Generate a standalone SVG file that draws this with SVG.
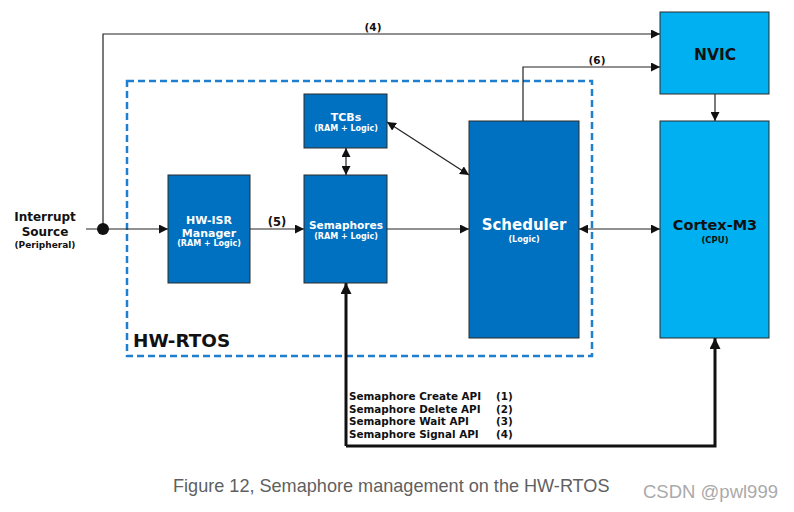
<svg xmlns="http://www.w3.org/2000/svg" width="794" height="512" viewBox="0 0 794 512">
<defs>
<marker id="ah" viewBox="0 0 10 10" refX="10" refY="5" markerWidth="9" markerHeight="9" markerUnits="userSpaceOnUse" orient="auto-start-reverse">
<path d="M0,0 L10,5 L0,10 z" fill="#111"/>
</marker>
<marker id="ahb" viewBox="0 0 10 10" refX="10" refY="5" markerWidth="11" markerHeight="11" markerUnits="userSpaceOnUse" orient="auto-start-reverse">
<path d="M0,0 L10,5 L0,10 z" fill="#111"/>
</marker>
<style>
.dk{fill:#0070C0;stroke:#2a2a2a;stroke-width:1}
.lt{fill:#00B0F0;stroke:#2a2a2a;stroke-width:1}
.w{fill:#fff;font-family:"DejaVu Sans",Verdana,sans-serif;font-weight:bold;text-anchor:middle}
.b{fill:#111;font-family:"DejaVu Sans",Verdana,sans-serif;font-weight:bold}
.c{text-anchor:middle}
.ln{fill:none;stroke:#222;stroke-width:1.2}
.th{fill:none;stroke:#111;stroke-width:3}
</style>
</defs>
<rect width="794" height="512" fill="#fff"/>

<g id="hw-rtos">
<rect x="127" y="81" width="465" height="275" fill="none" stroke="#1E7FD0" stroke-width="2.5" stroke-dasharray="7 4"/>
<text class="b" x="133" y="347" font-size="18.4">HW-RTOS</text>
</g>

<g id="connectors">
<path class="ln" d="M86,229 H168" marker-end="url(#ah)"/>
<path class="ln" d="M103,229 V34 H660" marker-end="url(#ah)"/>
<path class="ln" d="M250,229 H304" marker-end="url(#ah)"/>
<path class="ln" d="M387,229 H469" marker-end="url(#ah)"/>
<path class="ln" d="M579,229 H660" marker-start="url(#ah)" marker-end="url(#ah)"/>
<path class="ln" d="M346,148 V175" marker-start="url(#ah)" marker-end="url(#ah)"/>
<path class="ln" d="M387,122 L469,175" marker-start="url(#ah)" marker-end="url(#ah)"/>
<path class="ln" d="M523,121 V67 H660" marker-end="url(#ah)"/>
<path class="ln" d="M715,94 V121" marker-end="url(#ah)"/>
<path class="th" d="M346,446 V283" marker-end="url(#ahb)"/>
<path class="th" d="M346,446 H715 V338" marker-end="url(#ahb)"/>
<circle cx="103" cy="229" r="6" fill="#111"/>
<text class="b c" x="373" y="31" font-size="10.5">(4)</text>
<text class="b c" x="597" y="64" font-size="10.5">(6)</text>
<text class="b c" x="277" y="226" font-size="11.5">(5)</text>
<text class="b" font-size="10.4" x="349" y="400">Semaphore Create API</text>
<text class="b" font-size="10.4" x="349" y="413">Semaphore Delete API</text>
<text class="b" font-size="10.4" x="349" y="425">Semaphore Wait API</text>
<text class="b" font-size="10.4" x="349" y="438">Semaphore Signal API</text>
<text class="b" font-size="10.4" x="496" y="400">(1)</text>
<text class="b" font-size="10.4" x="496" y="413">(2)</text>
<text class="b" font-size="10.4" x="496" y="425">(3)</text>
<text class="b" font-size="10.4" x="496" y="438">(4)</text>
</g>

<g id="interrupt-source">
<text class="b c" x="45" y="221" font-size="12">Interrupt</text>
<text class="b c" x="45" y="236" font-size="12">Source</text>
<text class="b c" x="45" y="248" font-size="9">(Peripheral)</text>
</g>

<g id="hw-isr">
<rect class="dk" x="168" y="175" width="82" height="108"/>
<text class="w" x="209" y="224" font-size="11">HW-ISR</text>
<text class="w" x="209" y="237" font-size="11">Manager</text>
<text class="w" x="209" y="246" font-size="8">(RAM + Logic)</text>
</g>

<g id="semaphores">
<rect class="dk" x="304" y="175" width="83" height="108"/>
<text class="w" x="346" y="229" font-size="10.6">Semaphores</text>
<text class="w" x="346" y="239" font-size="8">(RAM + Logic)</text>
</g>

<g id="tcbs">
<rect class="dk" x="304" y="94" width="83" height="54"/>
<text class="w" x="346" y="121" font-size="11">TCBs</text>
<text class="w" x="346" y="131" font-size="8">(RAM + Logic)</text>
</g>

<g id="scheduler">
<rect class="dk" x="469" y="121" width="110" height="217"/>
<text class="w" x="524" y="230" font-size="15">Scheduler</text>
<text class="w" x="524" y="242" font-size="8">(Logic)</text>
</g>

<g id="nvic">
<rect class="lt" x="660" y="12" width="109" height="82"/>
<text class="b c" x="715" y="60" font-size="15.5">NVIC</text>
</g>

<g id="cortex">
<rect class="lt" x="660" y="121" width="109" height="217"/>
<text class="b c" x="715" y="230" font-size="14.5">Cortex-M3</text>
<text class="b c" x="715" y="243" font-size="8.5">(CPU)</text>
</g>

<g id="caption">
<text x="173" y="492" font-family="Liberation Sans, Arial, sans-serif" font-size="18.1" fill="#5f5f5f">Figure 12, Semaphore management on the HW-RTOS</text>
<text x="643" y="498" font-family="Liberation Sans, Arial, sans-serif" font-size="18.5" fill="#aaa">CSDN @pwl999</text>
</g>
</svg>
